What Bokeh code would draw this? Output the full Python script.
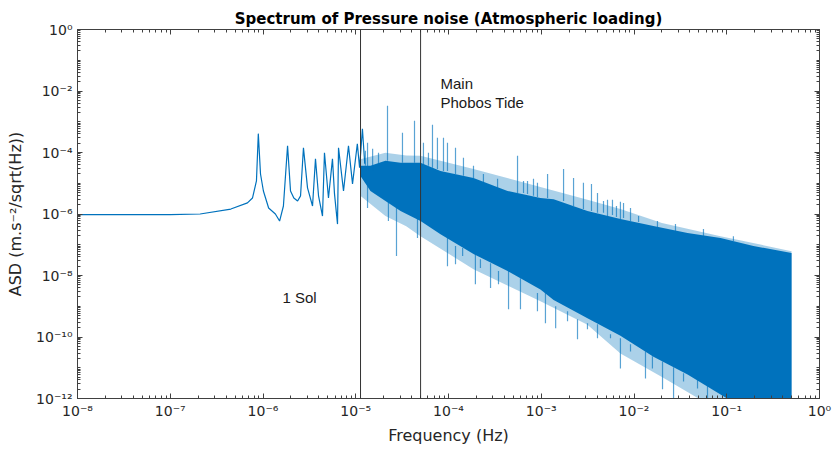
import numpy as np
from bokeh.plotting import figure
from bokeh.models import LogAxis, FixedTicker, CustomJSTickFormatter, Span, Label
from bokeh.embed import file_html
from bokeh.resources import INLINE

# ---- data ----
# low-frequency resonance line
line_freq = [1e-8, 1e-7, 2.1e-7, 4.5e-7, 6.8e-7, 7.7e-7, 8.5e-7, 8.9e-7, 9.4e-7, 1.01e-6,
             1.15e-6, 1.36e-6, 1.51e-6, 1.66e-6, 1.84e-6, 1.98e-6, 2.15e-6, 2.36e-6, 2.54e-6, 2.73e-6,
             3.02e-6, 3.42e-6, 3.68e-6, 3.97e-6, 4.38e-6, 4.6e-6, 5.08e-6, 5.61e-6, 5.9e-6,
             6.36e-6, 6.52e-6, 7.38e-6, 8.35e-6, 9.23e-6, 1.04e-5, 1.10e-5, 1.18e-5, 1.25e-5]
line_asd = [9.5e-7, 9.6e-7, 1.0e-6, 1.45e-6, 2.3e-6, 3.3e-6, 1.19e-5, 4.1e-4, 2.0e-5, 5.6e-6,
            1.57e-6, 1.0e-6, 5.9e-7, 1.82e-6, 1.65e-4, 5.6e-6, 3.3e-6, 2.66e-6, 3.9e-6, 1.42e-4,
            7.1e-6, 1.82e-6, 6.2e-5, 3.9e-6, 8.6e-7, 9.8e-5, 3.3e-6, 6.2e-5, 4.5e-6,
            4.7e-7, 1.42e-4, 5.6e-6, 1.65e-4, 9.5e-6, 1.92e-4, 3.2e-5, 5.9e-4, 4.3e-5]

# dense noise band: solid core envelope
band_freq = [1.12e-5, 1.44e-5, 2.09e-5, 3.04e-5, 4.99e-5, 8.2e-5, 1.86e-4, 4.33e-4, 9.8e-4,
             1.36e-3, 3.15e-3, 7.14e-3, 1.62e-2, 3.78e-2, 8.57e-2, 0.194, 0.5]
band_top = [3.7e-5, 3.7e-5, 5.4e-5, 4.6e-5, 4.6e-5, 2.5e-5, 1.49e-5, 5.6e-6, 3.3e-6,
            3.0e-6, 1.25e-6, 6.9e-7, 4.1e-7, 2.4e-7, 1.65e-7, 9.1e-8, 5.4e-8]
band_bot = [1.74e-5, 5.6e-6, 2.66e-6, 1.25e-6, 5.9e-7, 2.2e-7, 5.0e-8, 1.39e-8, 3.5e-9,
            1.6e-9, 4.1e-10, 1.1e-10, 2.3e-11, 6.0e-12, 1.35e-12, 3.0e-13, 4.0e-14]

# dense noise band: lighter outer fringe
fringe_freq = [1.12e-5, 2.09e-5, 3.5e-5, 4.99e-5, 1.86e-4, 9.8e-4, 3.15e-3, 7.14e-3, 2.0e-2, 8.57e-2, 0.5]
fringe_top = [6.0e-5, 9.8e-5, 8.0e-5, 7.8e-5, 2.9e-5, 7.6e-6, 2.9e-6, 1.46e-6, 5.1e-7, 1.9e-7, 6.2e-8]
fringe_bot = [3.9e-6, 8.6e-7, 4.0e-7, 1.9e-7, 1.6e-8, 1.46e-9, 2.5e-10, 2.9e-11, 5.0e-12, 3.8e-13, 1.9e-14]

# isolated spikes rising above the band
up_freq = [1.27e-5, 1.34e-5, 1.52e-5, 1.76e-5, 2.20e-5, 3.19e-5, 4.30e-5, 5.37e-5, 6.08e-5,
           6.72e-5, 7.60e-5, 8.83e-5, 9.75e-5, 1.19e-4, 1.45e-4, 1.86e-4, 2.38e-4, 3.38e-4,
           5.55e-4, 6.44e-4, 7.11e-4, 8.25e-4, 9.1e-4, 1.17e-3, 1.74e-3, 2.23e-3, 2.85e-3,
           3.48e-3, 4.04e-3, 4.69e-3, 5.18e-3, 5.86e-3, 6.47e-3, 7.14e-3, 7.71e-3, 9.17e-3,
           1.12e-2, 1.79e-2, 2.80e-2, 5.61e-2, 0.118]
up_tip = [1.13e-4, 2.07e-4, 1.32e-4, 9.8e-5, 3.33e-3, 4.4e-4, 1.08e-3, 2.07e-4, 9.8e-5,
          8.0e-4, 3.0e-4, 3.0e-4, 2.07e-4, 1.42e-4, 6.7e-5, 3.7e-5, 2.0e-5, 1.39e-5,
          7.8e-5, 1.19e-5, 1.19e-5, 1.39e-5, 1.03e-5, 2.0e-5, 2.9e-5, 1.49e-5, 1.03e-5,
          9.5e-6, 4.8e-6, 2.66e-6, 2.9e-6, 2.9e-6, 1.82e-6, 2.5e-6, 2.3e-6, 1.57e-6,
          8.6e-7, 5.9e-7, 4.7e-7, 3.25e-7, 1.9e-7]
up_base = [3.7e-5, 2.5e-5, 2.5e-5, 3.7e-5, 5.4e-5, 4.6e-5, 4.6e-5, 3.7e-5, 3.7e-5,
           3.2e-5, 2.9e-5, 2.5e-5, 2.5e-5, 2.0e-5, 1.74e-5, 1.49e-5, 1.03e-5, 7.1e-6,
           4.8e-6, 4.8e-6, 4.5e-6, 3.9e-6, 3.6e-6, 3.3e-6, 2.66e-6, 1.82e-6, 1.46e-6,
           1.25e-6, 1.1e-6, 1.1e-6, 8.6e-7, 9.3e-7, 8.0e-7, 6.9e-7, 7.4e-7, 5.9e-7,
           5.5e-7, 3.8e-7, 2.8e-7, 1.9e-7, 1.32e-7]

# isolated spikes dropping below the band
dn_freq = [1.34e-5, 2.25e-5, 2.75e-5, 4.63e-5, 9.75e-5, 1.19e-4, 1.42e-4, 1.95e-4, 2.21e-4,
           2.84e-4, 3.46e-4, 4.44e-4, 5.97e-4, 9.1e-4, 1.11e-3, 1.43e-3, 1.92e-3, 2.46e-3,
           3.15e-3, 4.04e-3, 5.58e-3, 7.14e-3, 9.17e-3, 1.33e-2, 1.58e-2, 2.03e-2, 2.67e-2,
           3.42e-2, 4.84e-2, 6.2e-2]
dn_tip = [1.57e-6, 5.9e-7, 4.3e-8, 1.65e-7, 2.0e-8, 2.34e-8, 4.3e-8, 5.2e-9, 1.74e-8,
          3.9e-9, 5.2e-9, 8.0e-10, 8.0e-10, 6.9e-10, 2.8e-10, 1.92e-10, 3.25e-10, 8.4e-11,
          1.78e-10, 9.1e-11, 9.1e-11, 9.5e-12, 3.4e-11, 4.5e-12, 9.5e-12, 2.0e-12, 8e-13,
          3.6e-12, 2.1e-12, 1.0e-12]
dn_base = [8.2e-6, 2.66e-6, 1.82e-6, 6.9e-7, 1.65e-7, 9.1e-8, 7.8e-8, 5.0e-8, 3.4e-8,
           2.5e-8, 1.39e-8, 1.39e-8, 8.2e-9, 2.7e-9, 3.1e-9, 1.0e-9, 6.9e-10, 3.8e-10,
           2.8e-10, 2.6e-10, 1.22e-10, 9.1e-11, 5.8e-11, 3.4e-11, 2.35e-11, 1.6e-11, 1.03e-11,
           6.6e-12, 4.5e-12, 3.6e-12]

# marked frequencies
sol_freq = 1.126e-5
phobos_freq = 5.0e-5

x_major = [10.0 ** k for k in range(-8, 1)]
x_minor = [n * 10.0 ** k for k in range(-8, 0) for n in range(2, 10)]
y_major = [10.0 ** k for k in range(-12, 1, 2)]
y_minor = [n * 10.0 ** k for k in range(-12, 0) for n in range(1, 10)]

BLUE = "#0072BD"
AXC = "#404040"

p = figure(width=836, height=453, x_axis_type="log", y_axis_type="log",
           x_range=(1e-8, 1), y_range=(1e-12, 1),
           output_backend="svg", toolbar_location=None,
           min_border_left=77, min_border_right=17, min_border_top=29, min_border_bottom=55,
           background_fill_color="white", border_fill_color="white")
p.grid.visible = False
p.outline_line_color = AXC
p.outline_line_width = 1

p.title.text = "Spectrum of Pressure noise (Atmospheric loading)"
p.title.text_font = "DejaVu Sans"
p.title.text_font_style = "bold"
p.title.text_font_size = "15px"
p.title.text_color = "#000000"
p.title.align = "center"
p.title.standoff = 4

sup_js = """
const e = Math.round(Math.log10(tick));
const m = {'-':'\u207B','0':'\u2070','1':'\u00B9','2':'\u00B2','3':'\u00B3','4':'\u2074',
           '5':'\u2075','6':'\u2076','7':'\u2077','8':'\u2078','9':'\u2079'};
return '10' + String(e).split('').map(c => m[c]).join('');
"""
blank_js = "return '';"

def style_axis(ax, labels=True):
    ax.axis_line_color = AXC
    ax.major_tick_line_color = AXC
    ax.minor_tick_line_color = AXC
    ax.major_tick_in = 5
    ax.major_tick_out = 0
    ax.minor_tick_in = 3
    ax.minor_tick_out = 0
    ax.major_label_text_font = "DejaVu Sans"
    ax.major_label_text_font_size = "14px"
    ax.major_label_text_color = "#262626"
    ax.axis_label_text_font = "DejaVu Sans"
    ax.axis_label_text_font_size = "16px"
    ax.axis_label_text_font_style = "normal"
    ax.axis_label_text_color = "#262626"
    if labels:
        ax.formatter = CustomJSTickFormatter(code=sup_js)
    else:
        ax.formatter = CustomJSTickFormatter(code=blank_js)
        ax.major_label_standoff = 0
        ax.major_label_text_font_size = "0px"

p.xaxis.ticker = FixedTicker(ticks=x_major, minor_ticks=x_minor)
p.yaxis.ticker = FixedTicker(ticks=y_major, minor_ticks=y_minor)
for ax in p.xaxis:
    style_axis(ax)
    ax.axis_label = "Frequency (Hz)"
    ax.major_label_standoff = 4
    ax.axis_label_standoff = 4
for ax in p.yaxis:
    style_axis(ax)
    ax.axis_label = "ASD (m.s\u207B\u00B2/sqrt(Hz))"
    ax.major_label_standoff = 5
    ax.axis_label_standoff = 8

top_ax = LogAxis(ticker=FixedTicker(ticks=x_major, minor_ticks=x_minor))
style_axis(top_ax, labels=False)
p.add_layout(top_ax, "above")
right_ax = LogAxis(ticker=FixedTicker(ticks=y_major, minor_ticks=y_minor))
style_axis(right_ax, labels=False)
p.add_layout(right_ax, "right")

# noise band
p.varea(x=fringe_freq, y1=fringe_bot, y2=fringe_top, fill_color=BLUE, fill_alpha=0.33)
p.varea(x=band_freq, y1=band_bot, y2=band_top, fill_color=BLUE, fill_alpha=1.0)
p.segment(x0=up_freq, y0=up_base, x1=up_freq, y1=up_tip, line_color=BLUE, line_width=1.2, line_alpha=0.65)
p.segment(x0=dn_freq, y0=dn_base, x1=dn_freq, y1=dn_tip, line_color=BLUE, line_width=1.2, line_alpha=0.65)
# resonance line
p.line(line_freq, line_asd, line_color=BLUE, line_width=1.2)

# marked frequencies
for f in (sol_freq, phobos_freq):
    p.add_layout(Span(location=f, dimension="height", line_color="#333333", line_width=1))

p.add_layout(Label(x=1.62e-6, y=1.97e-9, text="1 Sol", text_font="Liberation Sans",
                   text_font_size="15px", text_color="#1a1a1a", text_baseline="middle"))
p.add_layout(Label(x=8.2e-5, y=1.73e-2, text="Main", text_font="Liberation Sans",
                   text_font_size="15px", text_color="#1a1a1a", text_baseline="middle"))
p.add_layout(Label(x=8.2e-5, y=4.2e-3, text="Phobos Tide", text_font="Liberation Sans",
                   text_font_size="15px", text_color="#1a1a1a", text_baseline="middle"))

open("out.html", "w").write(file_html(p, INLINE))
